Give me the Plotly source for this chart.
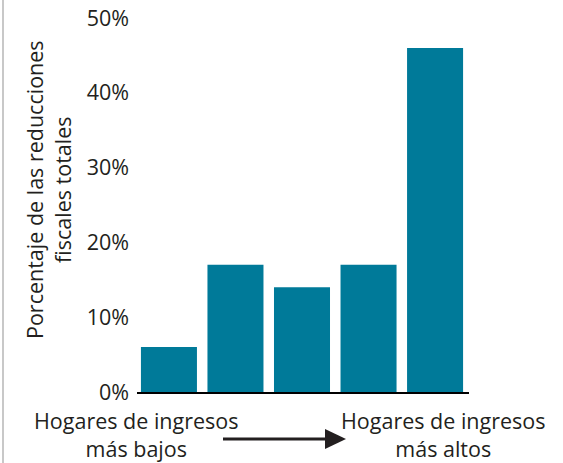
import plotly.graph_objects as go

categories = ["Q1", "Q2", "Q3", "Q4", "Q5"]
values = [6, 17, 14, 17, 46]
tick_vals = [0, 10, 20, 30, 40, 50]
tick_text = ["0%", "10%", "20%", "30%", "40%", "50%"]
y_title = "Porcentaje de las reducciones<br>fiscales totales"
left_label = "Hogares de ingresos<br>más bajos"
right_label = "Hogares de ingresos<br>más altos"

W, H = 563, 463
L, R, T, B = 137, 469, 18, 392
FONT = "Open Sans"
FS = 21.5
TXT = "#231f20"

def px(x):
    return (x - L) / (R - L)

def py(y):
    return (B - y) / (B - T)

fig = go.Figure(go.Bar(
    x=list(range(len(categories))), y=values,
    marker=dict(color="#007a99", line=dict(width=0)),
    hoverinfo="y",
))

annotations = [
    dict(text=y_title, x=px(49), y=py(190), xref="paper", yref="paper",
         xanchor="center", yanchor="middle",
         textangle=-90, showarrow=False, font=dict(size=FS, color=TXT, family=FONT)),
    dict(text=left_label, x=px(136), y=py(434), xref="paper", yref="paper",
         xanchor="center", yanchor="middle",
         showarrow=False, font=dict(size=FS, color=TXT, family=FONT)),
    dict(text=right_label, x=px(443), y=py(434), xref="paper", yref="paper",
         xanchor="center", yanchor="middle",
         showarrow=False, font=dict(size=FS, color=TXT, family=FONT)),
]

shapes = [
    dict(type="line", xref="paper", yref="paper", x0=px(3), x1=px(3), y0=py(0), y1=py(463),
         line=dict(color="#c8c8c8", width=2)),
    dict(type="line", xref="paper", yref="paper", x0=px(223), x1=px(328), y0=py(439), y1=py(439),
         line=dict(color="#231f20", width=3)),
    dict(type="path", xref="paper", yref="paper",
         path=f"M {px(325)} {py(429)} L {px(346)} {py(439)} L {px(325)} {py(449)} Z",
         fillcolor="#231f20", line=dict(width=0)),
]

fig.update_layout(
    width=W, height=H,
    margin=dict(l=L, r=W - R, t=T, b=H - B, pad=0, autoexpand=False),
    paper_bgcolor="white", plot_bgcolor="white",
    showlegend=False, bargap=0.158,
    font=dict(family=FONT, color=TXT, size=FS),
    xaxis=dict(range=[-0.48, 4.51], showticklabels=False, ticks="", showgrid=False,
               zeroline=False, showline=True, linecolor="black", linewidth=2,
               automargin=False),
    yaxis=dict(range=[0, 50], tickvals=tick_vals, ticktext=tick_text, showgrid=False,
               zeroline=False, showline=False, ticks="", ticklabelstandoff=7,
               automargin=False,
               tickfont=dict(size=FS, color=TXT, family=FONT)),
    annotations=annotations, shapes=shapes,
)

fig.write_html("out.html", config={"displayModeBar": False},
               post_script="document.body.style.margin='0';document.body.style.padding='0';")
